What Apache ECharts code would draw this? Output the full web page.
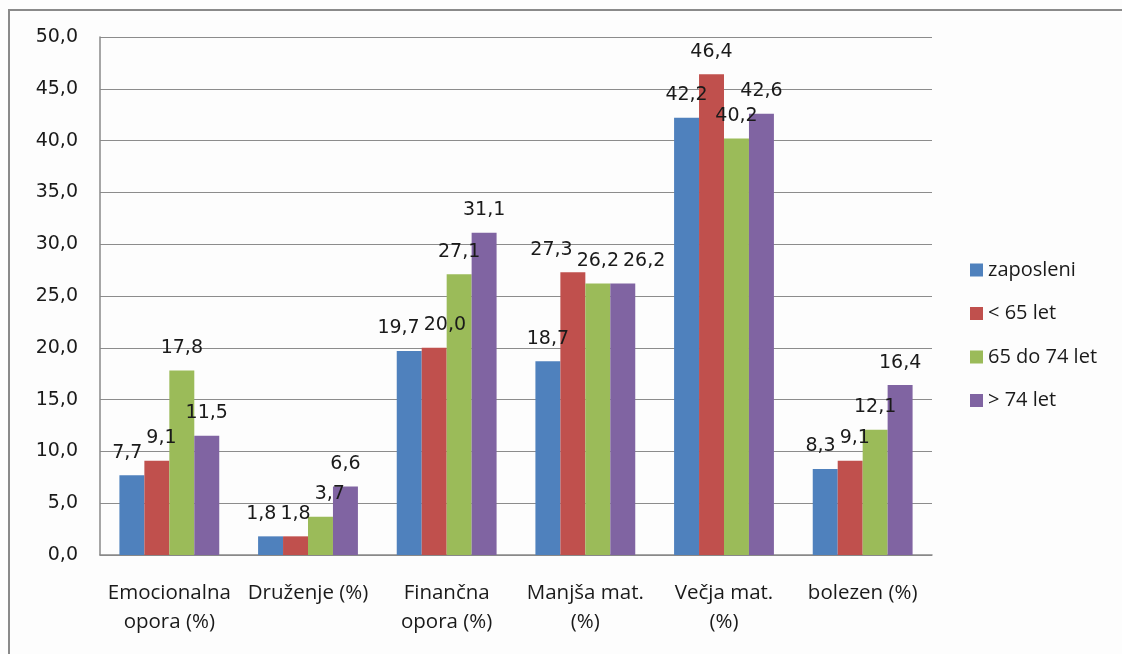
<!DOCTYPE html>
<html>
<head>
<meta charset="utf-8">
<script src="https://cdn.jsdelivr.net/npm/echarts@6/dist/echarts.min.js"></script>
<style>
  html, body { margin: 0; padding: 0; background: #ffffff; }
  #chart { width: 1122px; height: 654px; }
</style>
</head>
<body>
<div id="chart"></div>
<script>
// kategorije in serije
const categories = ['Emocionalna\nopora (%)', 'Druženje (%)', 'Finančna\nopora (%)', 'Manjša mat.\n(%)', 'Večja mat.\n(%)', 'bolezen (%)'];
const seriesNames = ['zaposleni', '< 65 let', '65 do 74 let', '> 74 let'];
const zaposleni = [7.7, 1.8, 19.7, 18.7, 42.2, 8.3];
const pod65 = [9.1, 1.8, 20.0, 27.3, 46.4, 9.1];
const od65do74 = [17.8, 3.7, 27.1, 26.2, 40.2, 12.1];
const nad74 = [11.5, 6.6, 31.1, 26.2, 42.6, 16.4];
const colors = ['#4F81BD', '#C0504D', '#9BBB59', '#8064A2'];

const allData = [zaposleni, pod65, od65do74, nad74];
const fmt = v => Number(v).toFixed(1).replace('.', ',');

const LABEL_FONT = 19;
const LABEL_DIST = 13;
const CAT_GAP = 0.28;

const chart = echarts.init(document.getElementById('chart'));

// zamiki oznak (izračunani po prvem izrisu)
let shifts = allData.map(d => d.map(() => 0));

const makeSeries = (name, data) => ({
  name,
  type: 'bar',
  data,
  barGap: '0%',
  barCategoryGap: (CAT_GAP * 100) + '%',
  label: {
    show: true,
    position: 'top',
    distance: LABEL_DIST,
    fontFamily: 'DejaVu Sans',
    fontSize: LABEL_FONT,
    color: '#1a1a1a',
    formatter: p => fmt(p.value)
  },
  labelLayout: p => ({ dx: shifts[p.seriesIndex][p.dataIndex] })
});

chart.setOption({
  backgroundColor: '#fdfdfd',
  animation: false,
  color: colors,
  graphic: [{
    type: 'rect',
    shape: { x: 9, y: 10, width: 1300, height: 800 },
    style: { fill: 'none', stroke: '#8a8a8a', lineWidth: 2 },
    silent: true
  }],
  grid: { left: 100, top: 37, width: 832, height: 518, containLabel: false },
  legend: {
    orient: 'vertical',
    left: 965,
    top: 255,
    itemWidth: 13,
    itemHeight: 13,
    itemGap: 23.5,
    icon: 'rect',
    textStyle: { fontFamily: 'Open Sans', fontSize: 20, color: '#1a1a1a' },
    data: seriesNames
  },
  xAxis: {
    type: 'category',
    data: categories,
    axisLine: { lineStyle: { color: '#888888', width: 1.5 } },
    axisTick: { show: false },
    axisLabel: {
      interval: 0,
      margin: 24,
      fontFamily: 'Open Sans',
      fontSize: 20.5,
      lineHeight: 29,
      color: '#1a1a1a'
    }
  },
  yAxis: {
    type: 'value',
    min: 0,
    max: 50,
    interval: 5,
    axisLine: { show: true, lineStyle: { color: '#888888', width: 1.5 } },
    axisTick: { show: false },
    splitLine: { lineStyle: { color: '#8c8c8c', width: 1.2 } },
    axisLabel: {
      margin: 22,
      fontFamily: 'DejaVu Sans',
      fontSize: 19,
      color: '#1a1a1a',
      formatter: v => fmt(v)
    }
  },
  series: allData.map((d, i) => makeSeries(seriesNames[i], d))
});

// razmakni prekrivajoče se oznake znotraj vsake kategorije
const ctx = document.createElement('canvas').getContext('2d');
ctx.font = LABEL_FONT + 'px "DejaVu Sans"';
const band = chart.convertToPixel({ xAxisIndex: 0 }, 1) - chart.convertToPixel({ xAxisIndex: 0 }, 0);
const barW = band * (1 - CAT_GAP) / allData.length;
const minGap = 4;
categories.forEach((c, ci) => {
  const cx = chart.convertToPixel({ xAxisIndex: 0 }, ci);
  const items = allData.map((d, si) => {
    const w = ctx.measureText(fmt(d[ci])).width;
    return {
      si,
      x: cx + (si - (allData.length - 1) / 2) * barW,
      y: chart.convertToPixel({ yAxisIndex: 0 }, d[ci]) - LABEL_DIST,
      w
    };
  });
  const base = items.map(it => it.x);
  for (let iter = 0; iter < 30; iter++) {
    for (let a = 0; a < items.length; a++) {
      for (let b = a + 1; b < items.length; b++) {
        const A = items[a], B = items[b];
        if (Math.abs(A.y - B.y) >= LABEL_FONT + 1) continue;
        const need = (A.w + B.w) / 2 + minGap;
        const have = B.x - A.x;
        if (have < need) {
          const push = (need - have) / 2;
          A.x -= push;
          B.x += push;
        }
      }
    }
  }
  items.forEach((it, k) => { shifts[it.si][ci] = it.x - base[k]; });
});

chart.setOption({ series: allData.map((d, i) => makeSeries(seriesNames[i], d)) });
</script>
</body>
</html>
